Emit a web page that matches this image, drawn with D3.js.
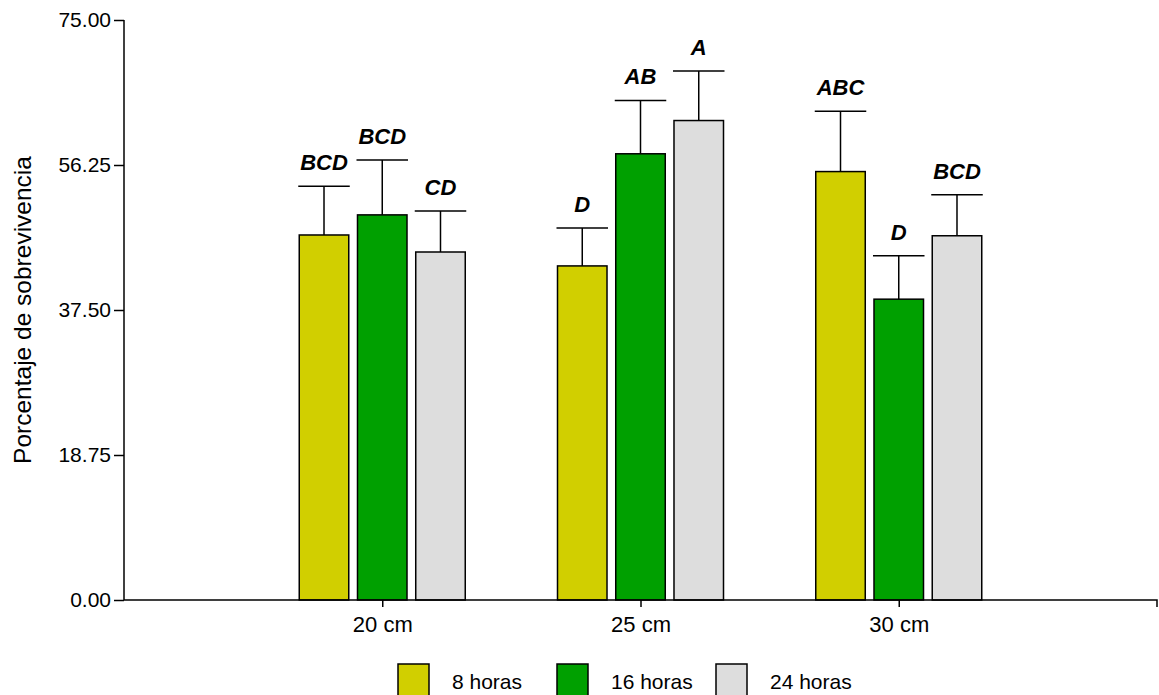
<!DOCTYPE html>
<html>
<head>
<meta charset="utf-8">
<script src="https://cdn.jsdelivr.net/npm/d3@7"></script>
<style>
  body { margin: 0; background: #fff; }
  svg { font-family: "Liberation Sans", Arial, sans-serif; }
</style>
</head>
<body>
<svg id="chart" width="1159" height="695"></svg>
<script>
const categories = ['20 cm', '25 cm', '30 cm'];
const series = ['8 horas', '16 horas', '24 horas'];
const colors = ['#d1cf00', '#00a000', '#dddddd'];
// mean and error (SE) per series, in category order
const means = [
  [47.2, 43.2, 55.4],
  [49.8, 57.7, 38.9],
  [45.0, 62.0, 47.1]
];
const errors = [
  [6.3, 4.9, 7.8],
  [7.1, 6.9, 5.6],
  [5.3, 6.4, 5.3]
];
const letters = [
  ['BCD', 'D', 'ABC'],
  ['BCD', 'AB', 'D'],
  ['CD', 'A', 'BCD']
];
const yTicks = [0, 18.75, 37.5, 56.25, 75];

const svg = d3.select('#chart');
const mLeft = 124, mRight = 1157, mTop = 20, mBottom = 600;
const fontFam = '"Liberation Sans", Arial, sans-serif';

const x = d3.scalePoint().domain(categories).range([mLeft, mRight]).padding(1);
const inner = d3.scaleBand().domain(series).range([-83, 83]).paddingInner(0.15);
const y = d3.scaleLinear().domain([0, 75]).range([mBottom, mTop]);

const data = [];
series.forEach(function(s, i) {
  categories.forEach(function(c, j) {
    data.push({ s: s, i: i, c: c, mean: means[i][j], err: errors[i][j], letter: letters[i][j] });
  });
});

const g = svg.append('g');

// error bars first so bars sit over the stems
const eb = g.selectAll('.err').data(data).enter().append('g').attr('class', 'err')
  .attr('stroke', '#000').attr('stroke-width', 1.5);
eb.append('line')
  .attr('x1', d => x(d.c) + inner(d.s) + inner.bandwidth() / 2)
  .attr('x2', d => x(d.c) + inner(d.s) + inner.bandwidth() / 2)
  .attr('y1', d => y(d.mean))
  .attr('y2', d => y(d.mean + d.err));
eb.append('line')
  .attr('x1', d => x(d.c) + inner(d.s) - 1)
  .attr('x2', d => x(d.c) + inner(d.s) + inner.bandwidth() + 1)
  .attr('y1', d => y(d.mean + d.err))
  .attr('y2', d => y(d.mean + d.err));

g.selectAll('.bar').data(data).enter().append('rect')
  .attr('class', 'bar')
  .attr('x', d => x(d.c) + inner(d.s))
  .attr('y', d => y(d.mean))
  .attr('width', inner.bandwidth())
  .attr('height', d => y(0) - y(d.mean))
  .attr('fill', d => colors[d.i])
  .attr('stroke', '#000')
  .attr('stroke-width', 1.5);

g.selectAll('.letter').data(data).enter().append('text')
  .attr('class', 'letter')
  .attr('x', d => x(d.c) + inner(d.s) + inner.bandwidth() / 2)
  .attr('y', d => y(d.mean + d.err) - 16)
  .attr('text-anchor', 'middle')
  .attr('font-size', 22)
  .attr('font-weight', 'bold')
  .attr('font-style', 'italic')
  .text(d => d.letter);

// y axis
const yAxis = svg.append('g')
  .attr('transform', 'translate(' + mLeft + ',0)')
  .call(d3.axisLeft(y).tickValues(yTicks).tickFormat(d3.format('.2f')).tickSize(10).tickPadding(3));
yAxis.selectAll('text').attr('font-size', 21).attr('fill', '#000').attr('font-family', fontFam);
yAxis.selectAll('line, path').attr('stroke', '#000').attr('stroke-width', 1.5);
yAxis.select('.domain').attr('d', 'M0,' + mTop + 'V' + mBottom);

// x axis
const xAxis = svg.append('g')
  .attr('transform', 'translate(0,' + mBottom + ')')
  .call(d3.axisBottom(x).tickSize(7).tickPadding(9).tickSizeOuter(7));
xAxis.selectAll('text').attr('font-size', 22).attr('fill', '#000').attr('font-family', fontFam);
xAxis.selectAll('line, path').attr('stroke', '#000').attr('stroke-width', 1.5);
xAxis.select('.domain').attr('d', 'M' + mLeft + ',0H' + mRight + 'V7');

svg.append('text')
  .attr('transform', 'translate(31,' + (mTop + mBottom) / 2 + ') rotate(-90)')
  .attr('text-anchor', 'middle')
  .attr('font-size', 24.5)
  .text('Porcentaje de sobrevivencia');

// legend
const legendX = [398, 557, 716];
const leg = svg.selectAll('.leg').data(series).enter().append('g')
  .attr('class', 'leg')
  .attr('transform', (d, i) => 'translate(' + legendX[i] + ',664)');
leg.append('rect')
  .attr('width', 31).attr('height', 36)
  .attr('fill', (d, i) => colors[i])
  .attr('stroke', '#000').attr('stroke-width', 1.5);
leg.append('text')
  .attr('x', 54).attr('y', 25)
  .attr('font-size', 21)
  .text(d => d);
</script>
</body>
</html>
